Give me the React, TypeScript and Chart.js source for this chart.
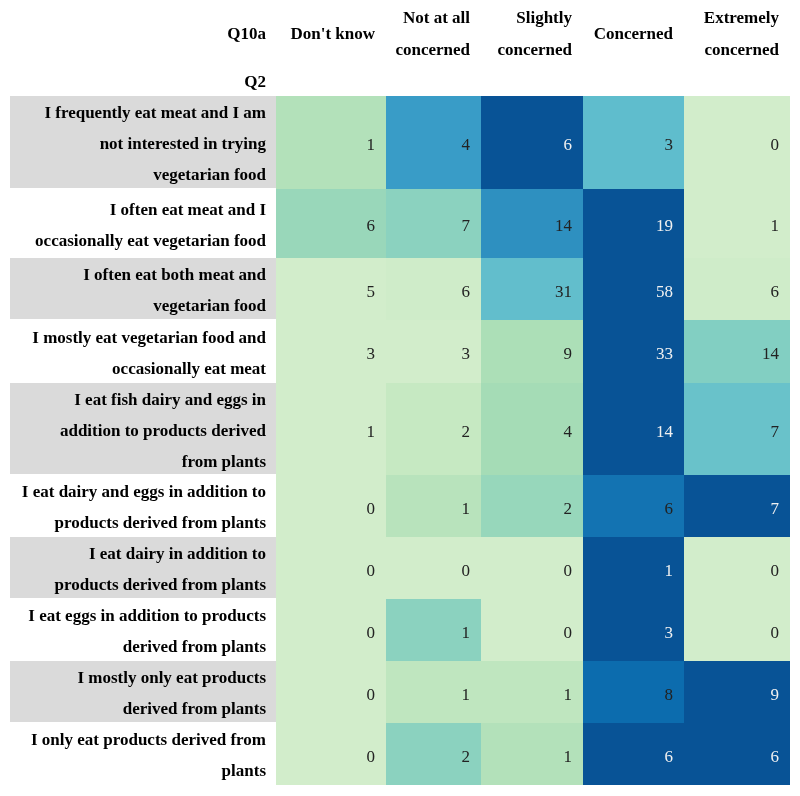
import React, { useEffect, useRef } from "react";
import { Chart, registerables } from "chart.js";

Chart.register(...registerables);

// ---------- data ----------
const columnAxisTitle = "Q10a";
const rowAxisTitle = "Q2";

const columnLabels: string[][] = [
  ["Don't know"],
  ["Not at all", "concerned"],
  ["Slightly", "concerned"],
  ["Concerned"],
  ["Extremely", "concerned"],
];

const rowLabels: string[][] = [
  ["I frequently eat meat and I am", "not interested in trying", "vegetarian food"],
  ["I often eat meat and I", "occasionally eat vegetarian food"],
  ["I often eat both meat and", "vegetarian food"],
  ["I mostly eat vegetarian food and", "occasionally eat meat"],
  ["I eat fish dairy and eggs in", "addition to products derived", "from plants"],
  ["I eat dairy and eggs in addition to", "products derived from plants"],
  ["I eat dairy in addition to", "products derived from plants"],
  ["I eat eggs in addition to products", "derived from plants"],
  ["I mostly only eat products", "derived from plants"],
  ["I only eat products derived from", "plants"],
];

const dontKnow = [1, 6, 5, 3, 1, 0, 0, 0, 0, 0];
const notAtAllConcerned = [4, 7, 6, 3, 2, 1, 0, 1, 1, 2];
const slightlyConcerned = [6, 14, 31, 9, 4, 2, 0, 0, 1, 1];
const concerned = [3, 19, 58, 33, 14, 6, 1, 3, 8, 6];
const extremelyConcerned = [0, 1, 6, 14, 7, 7, 0, 0, 9, 6];

const seriesValues = [dontKnow, notAtAllConcerned, slightlyConcerned, concerned, extremelyConcerned];

// ---------- layout (table geometry, in scale units) ----------
const CANVAS_W = 800;
const CANVAS_H = 796;
const TABLE_LEFT = 10;
const HEADER_COL_WIDTH = 266;
const COL_WIDTHS = [110, 95, 102, 101, 106];
const HEADER_HEIGHT = 96;
const ROW_HEIGHTS = [93, 69, 62, 63, 92, 62, 62, 62, 62, 62];
const LINE_HEIGHT = 31;
const CELL_PAD = 11;
const TEXT_SHIFT = 2.5;

// ---------- styles ----------
const FONT_FAMILY = '"Liberation Serif", "Times New Roman", serif';
const GNBU = ["#f7fcf0", "#e0f3db", "#ccebc5", "#a8ddb5", "#7bccc4", "#4eb3d3", "#2b8cbe", "#0868ac", "#084081"];
const CMAP_LOW = 0.215;
const CMAP_HIGH = 0.94;

function hexToRgb(h: string) {
  const n = parseInt(h.slice(1), 16);
  return [(n >> 16) & 255, (n >> 8) & 255, n & 255];
}

function gnbu(t: number) {
  const c = Math.max(0, Math.min(1, t)) * (GNBU.length - 1);
  const i = Math.min(GNBU.length - 2, Math.floor(c));
  const f = c - i;
  const a = hexToRgb(GNBU[i]);
  const b = hexToRgb(GNBU[i + 1]);
  return a.map((v, k) => Math.round(v + (b[k] - v) * f));
}

function luminance(rgb: number[]) {
  const lin = rgb.map((v) => {
    const s = v / 255;
    return s <= 0.03928 ? s / 12.92 : Math.pow((s + 0.055) / 1.055, 2.4);
  });
  return 0.2126 * lin[0] + 0.7152 * lin[1] + 0.0722 * lin[2];
}

function colEdges() {
  const edges = [TABLE_LEFT, TABLE_LEFT + HEADER_COL_WIDTH];
  COL_WIDTHS.forEach((w) => edges.push(edges[edges.length - 1] + w));
  return edges;
}
function rowEdges() {
  const edges = [HEADER_HEIGHT];
  ROW_HEIGHTS.forEach((h) => edges.push(edges[edges.length - 1] + h));
  return edges;
}

const tablePlugin = {
  id: "styledTable",
  beforeDatasetsDraw(chart: any) {
    const ctx: CanvasRenderingContext2D = chart.ctx;
    const xs = chart.scales.x;
    const ys = chart.scales.y;
    const X = (v: number) => xs.getPixelForValue(v);
    const Y = (v: number) => ys.getPixelForValue(v);
    const ce = colEdges();
    const re = rowEdges();

    ctx.save();
    ctx.fillStyle = "#ffffff";
    ctx.fillRect(0, 0, chart.width, chart.height);

    ctx.textBaseline = "middle";
    ctx.textAlign = "right";
    ctx.fillStyle = "#000000";
    ctx.font = `bold 17px ${FONT_FAMILY}`;

    // header
    ctx.fillText(columnAxisTitle, X(ce[1] - 10), Y(32 + TEXT_SHIFT));
    ctx.fillText(rowAxisTitle, X(ce[1] - 10), Y(80 + TEXT_SHIFT));
    columnLabels.forEach((lines, j) => {
      const right = ce[j + 2] - CELL_PAD;
      const y0 = 32 - ((lines.length - 1) * 32) / 2;
      lines.forEach((ln, k) => ctx.fillText(ln, X(right), Y(y0 + k * 32 + TEXT_SHIFT)));
    });

    // rows
    rowLabels.forEach((lines, i) => {
      const top = re[i];
      const bottom = re[i + 1];
      const mid = (top + bottom) / 2;
      if (i % 2 === 0) {
        ctx.fillStyle = "#dadada";
        ctx.fillRect(X(ce[0]), Y(top), X(ce[1]) - X(ce[0]), Y(bottom) - Y(top) - 1);
      }
      ctx.fillStyle = "#000000";
      ctx.font = `bold 17px ${FONT_FAMILY}`;
      const y0 = mid - ((lines.length - 1) * LINE_HEIGHT) / 2;
      lines.forEach((ln, k) => ctx.fillText(ln, X(ce[1] - 10), Y(y0 + k * LINE_HEIGHT + TEXT_SHIFT)));

      // cells (row-wise gradient)
      const rowVals = seriesValues.map((s) => s[i]);
      const mn = Math.min(...rowVals);
      const mx = Math.max(...rowVals);
      rowVals.forEach((v, j) => {
        const norm = mx === mn ? 0 : (v - mn) / (mx - mn);
        const rgb = gnbu(CMAP_LOW + (CMAP_HIGH - CMAP_LOW) * norm);
        ctx.fillStyle = `rgb(${rgb[0]},${rgb[1]},${rgb[2]})`;
        const x0 = X(ce[j + 1]);
        const x1 = X(ce[j + 2]);
        ctx.fillRect(x0, Y(top), x1 - x0, Y(bottom) - Y(top));
        ctx.fillStyle = luminance(rgb) < 0.11 ? "#f1f1f1" : "#222222";
        ctx.font = `17px ${FONT_FAMILY}`;
        ctx.fillText(String(v), X(ce[j + 2] - CELL_PAD), Y(mid + 1 + TEXT_SHIFT));
      });
    });
    ctx.restore();
  },
};

export default function App() {
  const ref = useRef<HTMLCanvasElement | null>(null);
  useEffect(() => {
    if (!ref.current) return;
    const ce = colEdges();
    const re = rowEdges();
    const points: { x: number; y: number }[] = [];
    rowLabels.forEach((_, i) =>
      seriesValues.forEach((_s, j) => points.push({ x: (ce[j + 1] + ce[j + 2]) / 2, y: (re[i] + re[i + 1]) / 2 }))
    );
    const chart = new Chart(ref.current, {
      type: "scatter",
      data: { datasets: [{ data: points, pointRadius: 0, pointHoverRadius: 0 }] },
      options: {
        responsive: false,
        animation: false,
        events: [],
        layout: { padding: 0 },
        plugins: { legend: { display: false }, tooltip: { enabled: false } },
        scales: {
          x: { type: "linear", display: false, min: 0, max: CANVAS_W },
          y: { type: "linear", display: false, min: 0, max: CANVAS_H, reverse: true },
        },
      },
      plugins: [tablePlugin],
    });
    return () => chart.destroy();
  }, []);
  return (
    <div style={{ position: "fixed", left: 0, top: 0, width: CANVAS_W, height: CANVAS_H, background: "#fff" }}>
      <canvas ref={ref} width={CANVAS_W} height={CANVAS_H} style={{ display: "block", width: CANVAS_W, height: CANVAS_H }} />
    </div>
  );
}
